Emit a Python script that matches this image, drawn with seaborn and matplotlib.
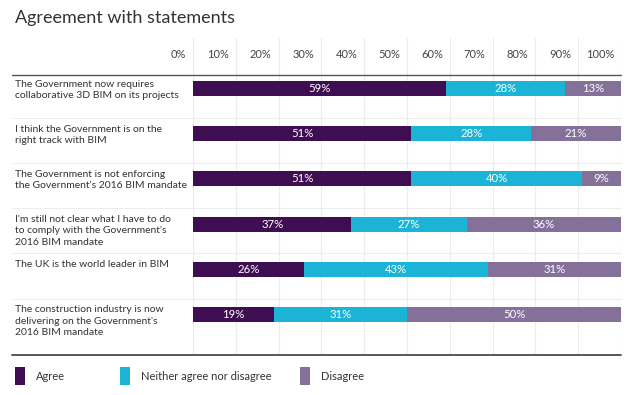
import numpy as np
import pandas as pd
import seaborn as sns
import matplotlib.pyplot as plt
import matplotlib.transforms as mtransforms
from matplotlib.patches import Patch

# данные с картинки
statements = [
    "The Government now requires\ncollaborative 3D BIM on its projects",
    "I think the Government is on the\nright track with BIM",
    "The Government is not enforcing\nthe Government's 2016 BIM mandate",
    "I'm still not clear what I have to do\nto comply with the Government's\n2016 BIM mandate",
    "The UK is the world leader in BIM",
    "The construction industry is now\ndelivering on the Government's\n2016 BIM mandate",
]
agree = [59, 51, 51, 37, 26, 19]
neither = [28, 28, 40, 27, 43, 31]
disagree = [13, 21, 9, 36, 31, 50]
series_names = ["Agree", "Neither agree nor disagree", "Disagree"]
tick_values = list(range(0, 101, 10))
tick_labels = [f"{v}%" for v in tick_values]

colors = ["#3f0d52", "#1cb4d6", "#85709a"]

sns.set_style("white")
plt.rcParams["font.family"] = ["Lato", "DejaVu Sans"]

df = pd.DataFrame({"statement": statements, "Agree": agree,
                   "Neither": neither, "Disagree": disagree})
df["c1"] = df["Agree"]
df["c2"] = df["Agree"] + df["Neither"]
df["c3"] = df["c2"] + df["Disagree"]

W, H = 640, 395
fig = plt.figure(figsize=(W / 100, H / 100), dpi=100)
ax = fig.add_axes([193 / W, 1 - 355 / H, (621 - 193) / W, (355 - 38) / H])

# stacked bars: рисуем накопленные суммы от большей к меньшей
for col, c in zip(["c3", "c2", "c1"], colors[::-1]):
    sns.barplot(data=df, x=col, y="statement", orient="h", color=c,
                width=0.333, saturation=1, linewidth=0, ax=ax, zorder=3)

# подписи внутри сегментов
for i, row in df.iterrows():
    starts = [0, row["c1"], row["c2"]]
    for s, v in zip(starts, [row["Agree"], row["Neither"], row["Disagree"]]):
        ax.text(s + v / 2, i, f"{v}%", ha="center", va="center",
                color="white", fontsize=8.2, zorder=4)

ax.set_xlim(0, 100)
ax.set_ylim(5.9, -1.12)
ax.set_xlabel("")
ax.set_ylabel("")
ax.set_yticks([])

# сетка и шкала сверху
ax.set_xticks(tick_values)
ax.set_xticklabels(tick_labels, fontsize=8, color="#444444")
ax.xaxis.tick_top()
ax.tick_params(axis="x", length=0, pad=-16)
shift = mtransforms.ScaledTranslation(-7 / 100, 0, fig.dpi_scale_trans)
for lab in ax.get_xticklabels():
    lab.set_horizontalalignment("right")
    lab.set_transform(lab.get_transform() + shift)
ax.grid(axis="x", color="#ececec", linewidth=0.8, zorder=0)
for s in ax.spines.values():
    s.set_visible(False)

left_ext = (12 - 193) / (621 - 193)
ax.axhline(-0.31, xmin=left_ext, xmax=1, color="#555555", linewidth=1, clip_on=False)
ax.axhline(5.9, xmin=left_ext, xmax=1, color="#4a4a4a", linewidth=1.3, clip_on=False)
for k in range(5):
    ax.axhline(k + 0.65, xmin=left_ext, xmax=1, color="#eeeeee", linewidth=0.8,
               clip_on=False, zorder=0)

# подписи утверждений слева
trans = mtransforms.blended_transform_factory(fig.transFigure, ax.transData)
for i, txt in enumerate(statements):
    ax.text(15 / W, i - 0.2, txt, transform=trans, ha="left", va="top",
            fontsize=7.5, color="#333333", linespacing=1.35)

fig.text(15 / W, 1 - 18 / H, "Agreement with statements", ha="left", va="center",
         fontsize=13, color="#333333")

# легенда: три отдельных элемента, как в оригинале
legend_x = [15, 120, 300]
for name, c, lx in zip(series_names, colors, legend_x):
    fig.legend([Patch(facecolor=c, edgecolor="none")], [name], loc="center left",
               bbox_to_anchor=(lx / W, 1 - 376 / H), frameon=False, fontsize=8,
               handlelength=0.9, handleheight=2.0, handletextpad=1.0,
               borderpad=0, borderaxespad=0, labelcolor="#333333")

fig.savefig("out.png", dpi=100)
